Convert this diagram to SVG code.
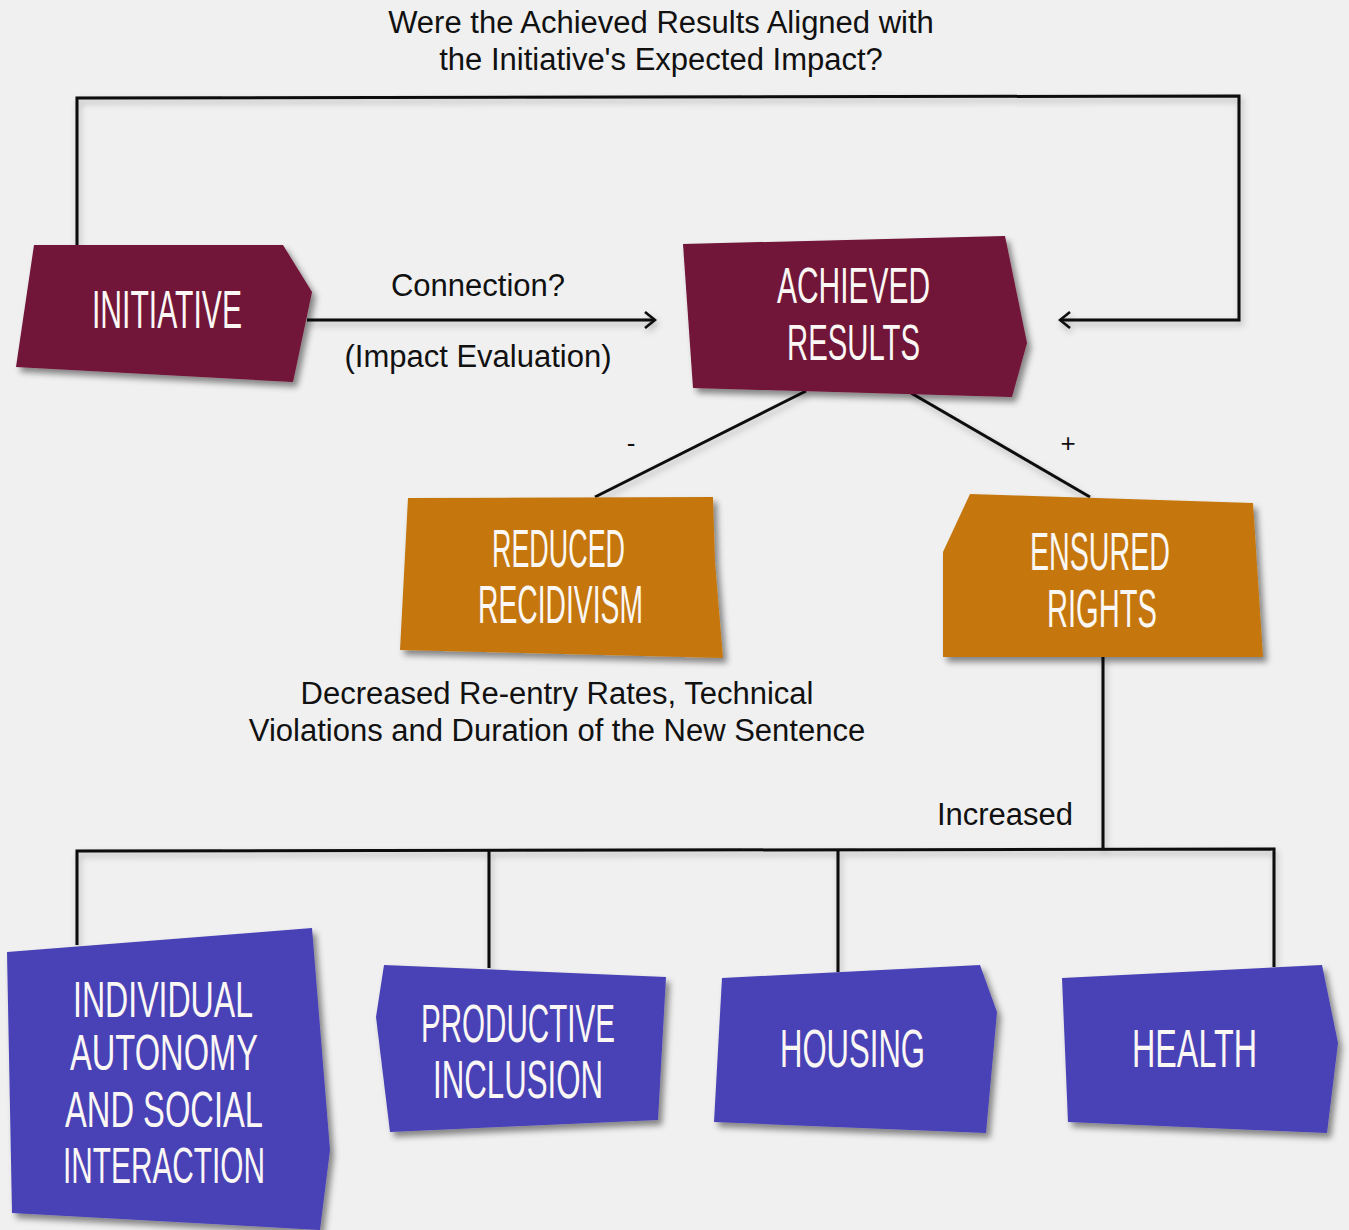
<svg xmlns="http://www.w3.org/2000/svg" width="1349" height="1230" viewBox="0 0 1349 1230">
<defs>
<style>
.lbl{font-family:"Liberation Sans","Helvetica",Arial,sans-serif;font-size:31px;fill:#111;}
.nt{font-family:"Liberation Sans Narrow","Liberation Sans",Arial,sans-serif;fill:#fbf7f5;font-size:54px;}
.maroon{fill:#711337;}
.orange{fill:#c5770f;}
.blue{fill:#4a42b6;}
.ln{fill:none;stroke:#0a0a0a;stroke-width:3;stroke-linejoin:miter;}
</style>
<filter id="sh" x="-10%" y="-10%" width="130%" height="130%">
<feDropShadow dx="4" dy="5" stdDeviation="3" flood-color="#000" flood-opacity="0.45"/>
</filter>
<filter id="lsh" x="-5%" y="-5%" width="110%" height="115%">
<feDropShadow dx="2" dy="4" stdDeviation="3" flood-color="#000" flood-opacity="0.25"/>
</filter>
<marker id="chev" viewBox="0 0 14 20" refX="12" refY="10" markerWidth="14" markerHeight="20" markerUnits="userSpaceOnUse" orient="auto">
<path d="M2 2 L12 10 L2 18" fill="none" stroke="#0a0a0a" stroke-width="2.6"/>
</marker>
</defs>
<rect width="1349" height="1230" fill="#f0f0f0"/>

<g id="labels">
<text class="lbl" x="661" y="33" text-anchor="middle">Were the Achieved Results Aligned with</text>
<text class="lbl" x="661" y="70" text-anchor="middle">the Initiative's Expected Impact?</text>
<text class="lbl" x="478" y="296" text-anchor="middle">Connection?</text>
<text class="lbl" x="478" y="367" text-anchor="middle">(Impact Evaluation)</text>
<text class="lbl" x="631" y="452" text-anchor="middle" style="font-size:26px">-</text>
<text class="lbl" x="1068" y="452" text-anchor="middle" style="font-size:26px">+</text>
<text class="lbl" x="557" y="704" text-anchor="middle">Decreased Re-entry Rates, Technical</text>
<text class="lbl" x="557" y="741" text-anchor="middle">Violations and Duration of the New Sentence</text>
<text class="lbl" x="1005" y="825" text-anchor="middle">Increased</text>
</g>

<g id="connectors" filter="url(#lsh)">
<polyline class="ln" points="77,245 77,98 1239,96 1239,320 1060,320" marker-end="url(#chev)"/>
<line class="ln" x1="307" y1="320" x2="655" y2="320" marker-end="url(#chev)"/>
<line class="ln" x1="806" y1="391" x2="595" y2="497"/>
<line class="ln" x1="911" y1="393" x2="1090" y2="497"/>
<line class="ln" x1="1103" y1="657" x2="1103" y2="850"/>
<polyline class="ln" points="77,945 77,851 1274,849 1274,967"/>
<line class="ln" x1="489" y1="851" x2="489" y2="968"/>
<line class="ln" x1="838" y1="850" x2="838" y2="972"/>
</g>

<g id="node-initiative">
<polygon class="maroon" filter="url(#sh)" points="34,245 283,245 312,292 293,382 16,367"/>
<text class="nt" x="92" y="328" textLength="150" lengthAdjust="spacingAndGlyphs">INITIATIVE</text>
</g>

<g id="node-achieved">
<polygon class="maroon" filter="url(#sh)" points="683,244 1005,236 1027,343 1012,397 693,388"/>
<text class="nt" x="777" y="303" style="font-size:50px" textLength="153" lengthAdjust="spacingAndGlyphs">ACHIEVED</text>
<text class="nt" x="787" y="360" style="font-size:50px" textLength="133" lengthAdjust="spacingAndGlyphs">RESULTS</text>
</g>

<g id="node-reduced">
<polygon class="orange" filter="url(#sh)" points="408,498 713,497 715,562 723,658 400,650"/>
<text class="nt" x="492" y="567" textLength="133" lengthAdjust="spacingAndGlyphs">REDUCED</text>
<text class="nt" x="478" y="623" textLength="165" lengthAdjust="spacingAndGlyphs">RECIDIVISM</text>
</g>

<g id="node-ensured">
<polygon class="orange" filter="url(#sh)" points="970,494 1253,503 1263,657 943,657 943,552"/>
<text class="nt" x="1030" y="570" textLength="140" lengthAdjust="spacingAndGlyphs">ENSURED</text>
<text class="nt" x="1047" y="627" textLength="110" lengthAdjust="spacingAndGlyphs">RIGHTS</text>
</g>

<g id="node-autonomy">
<polygon class="blue" filter="url(#sh)" points="7,952 312,928 330,1150 320,1230 12,1213"/>
<text class="nt" x="73" y="1017" style="font-size:50px" textLength="180" lengthAdjust="spacingAndGlyphs">INDIVIDUAL</text>
<text class="nt" x="70" y="1070" style="font-size:50px" textLength="188" lengthAdjust="spacingAndGlyphs">AUTONOMY</text>
<text class="nt" x="65" y="1127" style="font-size:50px" textLength="198" lengthAdjust="spacingAndGlyphs">AND SOCIAL</text>
<text class="nt" x="63" y="1183" style="font-size:50px" textLength="202" lengthAdjust="spacingAndGlyphs">INTERACTION</text>
</g>

<g id="node-productive">
<polygon class="blue" filter="url(#sh)" points="384,965 666,977 658,1120 390,1132 376,1017"/>
<text class="nt" x="421" y="1042" textLength="194" lengthAdjust="spacingAndGlyphs">PRODUCTIVE</text>
<text class="nt" x="433" y="1098" textLength="170" lengthAdjust="spacingAndGlyphs">INCLUSION</text>
</g>

<g id="node-housing">
<polygon class="blue" filter="url(#sh)" points="722,978 980,965 997,1012 986,1133 714,1122"/>
<text class="nt" x="780" y="1067" textLength="145" lengthAdjust="spacingAndGlyphs">HOUSING</text>
</g>

<g id="node-health">
<polygon class="blue" filter="url(#sh)" points="1062,978 1322,965 1338,1043 1327,1133 1068,1122"/>
<text class="nt" x="1132" y="1067" textLength="125" lengthAdjust="spacingAndGlyphs">HEALTH</text>
</g>
</svg>
